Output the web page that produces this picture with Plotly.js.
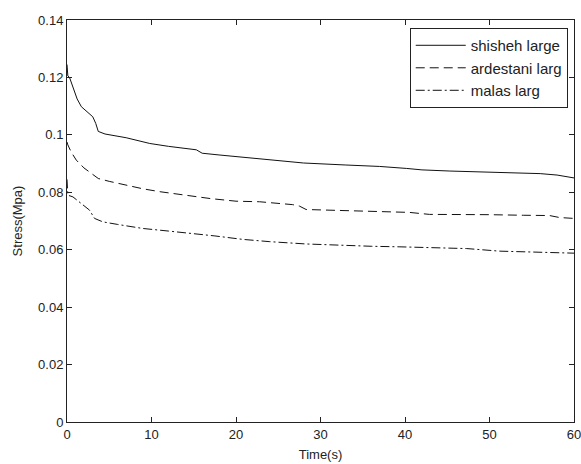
<!DOCTYPE html>
<html>
<head>
<meta charset="utf-8">
<script src="https://cdn.plot.ly/plotly-3.0.1.min.js"></script>
<style>html,body{margin:0;padding:0;background:#fff;}</style>
</head>
<body>
<div id="chart" style="width:581px;height:464px;"></div>
<script>
const seriesNames = ["shisheh large", "ardestani larg", "malas larg"];

const shishehX = [0, 0.1, 0.3, 0.7, 1.2, 1.7, 2.4, 3.05, 3.4, 3.7, 4.5, 7.0, 9.8, 12, 15.3, 16.0, 18, 21.6, 25, 28, 33, 37, 40.2, 42, 45.3, 50, 53.2, 56, 58, 60];
const shishehY = [0.1245, 0.1205, 0.1200, 0.1168, 0.1125, 0.1098, 0.1078, 0.1063, 0.1040, 0.1012, 0.1003, 0.0990, 0.0970, 0.0960, 0.0948, 0.0936, 0.0930, 0.0920, 0.0910, 0.0902, 0.0895, 0.0890, 0.0883, 0.0878, 0.0874, 0.0871, 0.0869, 0.0865, 0.0860, 0.0850];

const ardestaniX = [0, 0.1, 0.5, 1.1, 2.0, 3.0, 3.7, 5.0, 7.0, 9.0, 11, 13.5, 15.7, 17, 20, 22.8, 26.7, 27.5, 28.3, 32, 36, 40.5, 42.9, 46.5, 50, 54, 57.1, 58.3, 60];
const ardestaniY = [0.0975, 0.0965, 0.0940, 0.0912, 0.0885, 0.0862, 0.0848, 0.0838, 0.0825, 0.0812, 0.0802, 0.0792, 0.0781, 0.0778, 0.0769, 0.0767, 0.0757, 0.0752, 0.0740, 0.0737, 0.0735, 0.0730, 0.0723, 0.0723, 0.0722, 0.0720, 0.0719, 0.0712, 0.0709];

const malasX = [0, 0.1, 0.7, 1.5, 2.66, 3.26, 4.24, 6, 8.97, 12, 14.9, 17.5, 20.8, 24, 28.3, 32, 36, 39.4, 43, 47.3, 51.2, 55, 59.5, 60];
const malasY = [0.0845, 0.0790, 0.0784, 0.0765, 0.0738, 0.0709, 0.0697, 0.0688, 0.0674, 0.0665, 0.0657, 0.0648, 0.0636, 0.0628, 0.0620, 0.0615, 0.0612, 0.0610, 0.0607, 0.0604, 0.0595, 0.0593, 0.0590, 0.0588];

const xTickVals = [0, 10, 20, 30, 40, 50, 60];
const xTickText = ["0", "10", "20", "30", "40", "50", "60"];
const yTickVals = [0, 0.02, 0.04, 0.06, 0.08, 0.1, 0.12, 0.14];
const yTickText = ["0", "0.02", "0.04", "0.06", "0.08", "0.1", "0.12", "0.14"];

const fontFam = "Liberation Sans, Arial, sans-serif";

const traces = [
  {x: shishehX, y: shishehY, name: seriesNames[0], mode: "lines", legendgroup: "a",
   line: {color: "#111", width: 1, dash: "solid"}},
  {x: ardestaniX, y: ardestaniY, name: seriesNames[1], mode: "lines", legendgroup: "b",
   line: {color: "#111", width: 1, dash: "9px,5px"}},
  {x: malasX, y: malasY, name: seriesNames[2], mode: "lines", legendgroup: "c",
   line: {color: "#111", width: 1, dash: "9px,3px,2px,3px"}}
];

const axisCommon = {
  showline: true, linecolor: "#222", linewidth: 1, mirror: "ticks",
  ticks: "inside", ticklen: 5, tickcolor: "#222", tickwidth: 1,
  showgrid: false, zeroline: false, ticklabeloverflow: "allow",
  tickfont: {family: fontFam, size: 13, color: "#222"}
};

const layout = {
  width: 581, height: 464,
  margin: {l: 67, r: 7, t: 20, b: 42},
  paper_bgcolor: "#fff", plot_bgcolor: "#fff",
  showlegend: true,
  xaxis: Object.assign({}, axisCommon, {
    range: [0, 60], tickmode: "array", tickvals: xTickVals, ticktext: xTickText,
    title: {text: "Time(s)", font: {family: fontFam, size: 13, color: "#222"}, standoff: 9}
  }),
  yaxis: Object.assign({}, axisCommon, {
    range: [0, 0.14], tickmode: "array", tickvals: yTickVals, ticktext: yTickText,
    title: {text: "Stress(Mpa)", font: {family: fontFam, size: 13, color: "#222"}, standoff: 12}
  }),
  legend: {
    x: 0.676, y: 0.98, xanchor: "left", yanchor: "top",
    bordercolor: "#222", borderwidth: 1, bgcolor: "#fff",
    font: {family: fontFam, size: 15, color: "#222"},
    itemwidth: 50,
    traceorder: "grouped", tracegroupgap: 0
  }
};

Plotly.newPlot("chart", traces, layout, {displayModeBar: false, staticPlot: true});
</script>
</body>
</html>
